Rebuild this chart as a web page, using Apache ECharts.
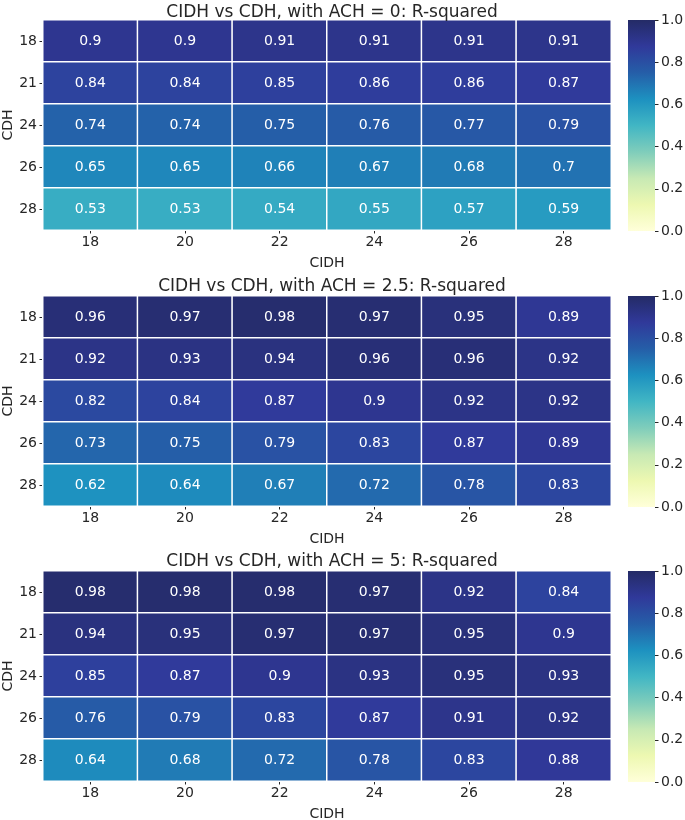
<!DOCTYPE html>
<html>
<head>
<meta charset="utf-8">
<script src="https://cdn.jsdelivr.net/npm/echarts@6/dist/echarts.min.js"></script>
<style>
html,body{margin:0;padding:0;background:#fff;}
#chart{width:685px;height:820px;}
</style>
</head>
<body>
<div id="chart"></div>
<script>
var cidh = ['18', '20', '22', '24', '26', '28'];
var cdh = ['18', '21', '24', '26', '28'];
var achValues = ['0', '2.5', '5'];
var colorbarTicks = [0, 0.2, 0.4, 0.6, 0.8, 1.0];

var rsqAch0 = [
  [0.9, 0.9, 0.91, 0.91, 0.91, 0.91],
  [0.84, 0.84, 0.85, 0.86, 0.86, 0.87],
  [0.74, 0.74, 0.75, 0.76, 0.77, 0.79],
  [0.65, 0.65, 0.66, 0.67, 0.68, 0.7],
  [0.53, 0.53, 0.54, 0.55, 0.57, 0.59]
];
var rsqAch25 = [
  [0.96, 0.97, 0.98, 0.97, 0.95, 0.89],
  [0.92, 0.93, 0.94, 0.96, 0.96, 0.92],
  [0.82, 0.84, 0.87, 0.9, 0.92, 0.92],
  [0.73, 0.75, 0.79, 0.83, 0.87, 0.89],
  [0.62, 0.64, 0.67, 0.72, 0.78, 0.83]
];
var rsqAch5 = [
  [0.98, 0.98, 0.98, 0.97, 0.92, 0.84],
  [0.94, 0.95, 0.97, 0.97, 0.95, 0.9],
  [0.85, 0.87, 0.9, 0.93, 0.95, 0.93],
  [0.76, 0.79, 0.83, 0.87, 0.91, 0.92],
  [0.64, 0.68, 0.72, 0.78, 0.83, 0.88]
];
var panels = [rsqAch0, rsqAch25, rsqAch5];

var palette = ['#ffffd9', '#edf8b1', '#c7e9b4', '#7fcdbb', '#41b6c4', '#1d91c0', '#255ea8', '#30399a', '#242b66'];
var font = 'DejaVu Sans';
var txt = '#262626';

var tops = [20, 296, 571];
var plotH = 210;
var plotL = 43, plotW = 568;
var cbL = 628, cbW = 27;

// vertical gradient for the colorbar (top = max colour)
var gradStops = palette.map(function (c, i) {
  return {offset: 1 - i / (palette.length - 1), color: c};
}).reverse();

var option = {
  animation: false,
  textStyle: {fontFamily: font},
  title: [], grid: [], xAxis: [], yAxis: [], series: [], visualMap: []
};

panels.forEach(function (mat, p) {
  var top = tops[p];
  option.title.push({
    text: 'CIDH vs CDH, with ACH = ' + achValues[p] + ': R-squared',
    left: plotL + plotW / 2, top: p === 0 ? top - 21 : top - 23, textAlign: 'center',
    textStyle: {fontFamily: font, fontSize: 17, fontWeight: 'normal', color: txt}
  });
  option.grid.push({left: plotL, top: top, width: plotW, height: plotH, outerBoundsMode: 'none', containLabel: false});
  option.xAxis.push({
    type: 'category', gridIndex: 2 * p, data: cidh,
    name: 'CIDH', nameLocation: 'middle', nameGap: 26, nameMoveOverlap: false,
    nameTextStyle: {fontFamily: font, fontSize: 14, color: txt},
    axisLine: {show: false},
    axisTick: {show: true, alignWithLabel: true, length: 3.5, lineStyle: {color: txt}},
    axisLabel: {fontFamily: font, fontSize: 14, color: txt, margin: 5},
    splitLine: {show: false}
  });
  option.yAxis.push({
    type: 'category', gridIndex: 2 * p, data: cdh, inverse: true,
    name: 'CDH', nameLocation: 'middle', nameGap: 28, nameRotate: 90, nameMoveOverlap: false,
    nameTextStyle: {fontFamily: font, fontSize: 14, color: txt},
    axisLine: {show: false},
    axisTick: {show: true, alignWithLabel: true, length: 3.5, lineStyle: {color: txt}},
    axisLabel: {fontFamily: font, fontSize: 14, color: txt, margin: 6},
    splitLine: {show: false}
  });
  var data = [];
  mat.forEach(function (row, r) {
    row.forEach(function (v, c) { data.push([c, r, v]); });
  });
  option.series.push({
    type: 'heatmap', xAxisIndex: 2 * p, yAxisIndex: 2 * p, data: data,
    itemStyle: {borderColor: '#ffffff', borderWidth: 1.5},
    label: {
      show: true, fontFamily: font, fontSize: 14, color: '#ffffff',
      formatter: function (d) { return String(d.value[2]); }
    },
    emphasis: {disabled: true}
  });
  option.visualMap.push({
    type: 'continuous', min: colorbarTicks[0], max: colorbarTicks[colorbarTicks.length - 1],
    seriesIndex: option.series.length - 1, show: false,
    inRange: {color: palette}
  });
  // colorbar
  option.grid.push({left: cbL, top: top, width: cbW, height: plotH + 1, outerBoundsMode: 'none', containLabel: false});
  option.xAxis.push({type: 'category', gridIndex: 2 * p + 1, show: false, data: ['cb']});
  option.yAxis.push({
    type: 'value', gridIndex: 2 * p + 1, position: 'right',
    min: colorbarTicks[0], max: colorbarTicks[colorbarTicks.length - 1], interval: 0.2,
    axisLine: {show: false},
    axisTick: {show: true, length: 3.5, lineStyle: {color: txt}},
    axisLabel: {fontFamily: font, fontSize: 14, color: txt, margin: 6,
      formatter: function (v) { return v.toFixed(1); }},
    splitLine: {show: false}
  });
  option.series.push({
    type: 'bar', xAxisIndex: 2 * p + 1, yAxisIndex: 2 * p + 1,
    data: [colorbarTicks[colorbarTicks.length - 1]], barWidth: '100%', silent: true,
    itemStyle: {color: new echarts.graphic.LinearGradient(0, 0, 0, 1, gradStops)}
  });
});

var chart = echarts.init(document.getElementById('chart'), null, {renderer: 'canvas'});
chart.setOption(option);
</script>
</body>
</html>
